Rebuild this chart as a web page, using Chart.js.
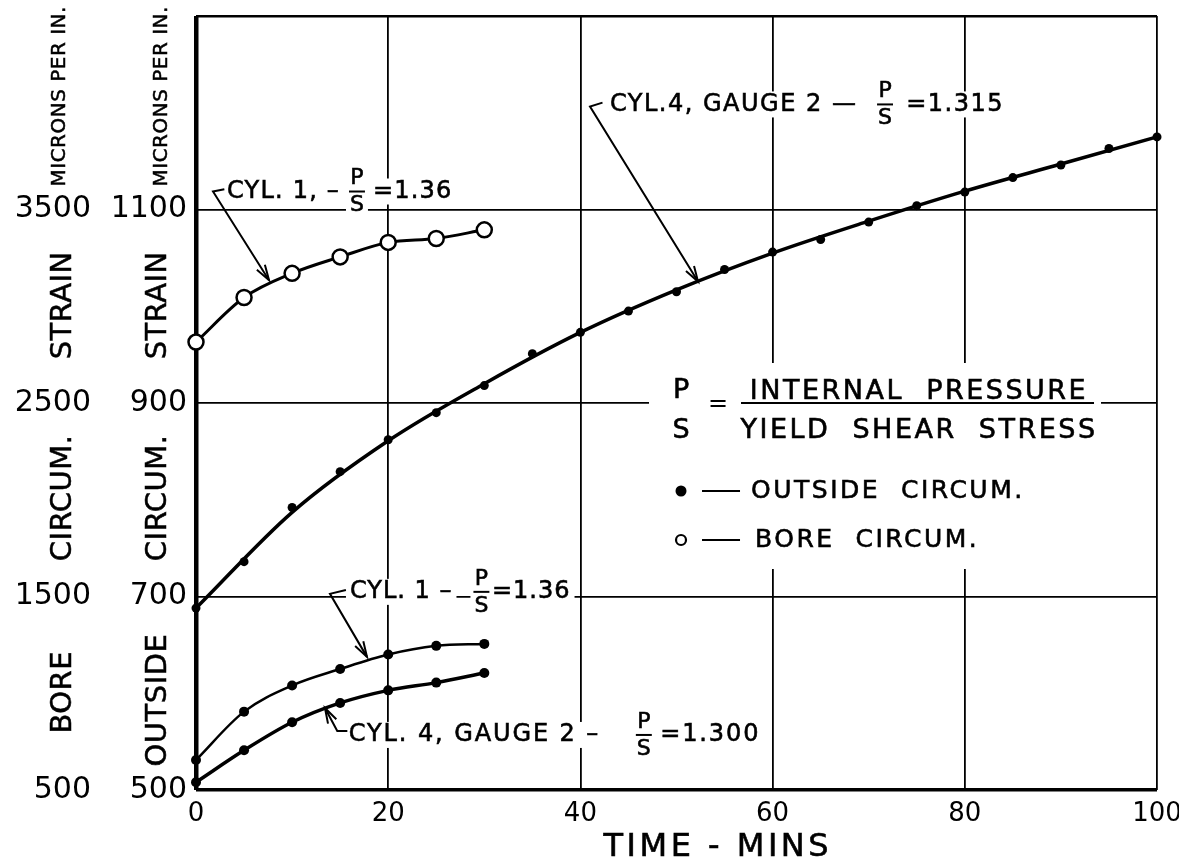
<!DOCTYPE html>
<html>
<head>
<meta charset="utf-8">
<title>Circumferential strain vs time</title>
<script src="https://cdn.jsdelivr.net/npm/chart.js@4.4.1/dist/chart.umd.min.js"></script>
<style>
  html, body { margin:0; padding:0; background:#fff; }
  canvas { display:block; }
</style>
</head>
<body>
<canvas id="chart" width="1179" height="867"></canvas>
<script>
// ---------- values ----------
const timeShortMin = [0, 5, 10, 15, 20, 25, 30];
const timeLongMin  = [0, 5, 10, 15, 20, 25, 30, 35, 40, 45, 50, 55, 60, 65, 70, 75, 80, 85, 90, 95, 100];
const timeCurveMin = [0, 10, 20, 30, 40, 50, 60, 70, 80, 90, 100];

// outside circumference, Cyl. 4, gauge 2, P/S = 1.315 (measured points)
const outsideCyl4Gauge2PS1315 = [688, 736, 792, 829, 862, 890, 918, 951, 973, 995, 1015, 1038, 1056, 1069, 1087, 1104, 1118, 1133, 1146, 1163, 1175];
// the faired curve drawn through them
const outsideCyl4Gauge2PS1315Curve = [688, 787, 861, 920, 973, 1017, 1055, 1088, 1119, 1147, 1175];
// outside circumference, Cyl. 1, P/S = 1.36
const outsideCyl1PS136 = [531, 581, 608, 625, 640, 649, 651];
// outside circumference, Cyl. 4, gauge 2, P/S = 1.300
const outsideCyl4Gauge2PS1300 = [508, 541, 570, 590, 603, 611, 621];
// bore circumference, Cyl. 1, P/S = 1.36
const boreCyl1PS136 = [2815, 3045, 3170, 3255, 3330, 3350, 3395];

const outsideTickValues = [500, 700, 900, 1100];
const boreTickValues = [500, 1500, 2500, 3500];
const timeTickValues = [0, 20, 40, 60, 80, 100];

// ---------- helpers ----------
const FONT = '"DejaVu Sans", "Liberation Sans", sans-serif';
const font = s => `${s}px ${FONT}`;
const pts = (xs, ys) => xs.map((x, i) => ({ x: x, y: ys[i] }));

// annotation texts (anchors in data units of x / outside-strain axis)
const annotationSpecs = [
  { prefix: 'CYL. 1, –', suffix: '=1.36', ls: 1.2, y: 1118.6, prefixX: 3.23, fracX: 16.75, suffixX: 18.42,
    leader: [[2.95, 1121], [1.77, 1118.6], [7.60, 1026.9]] },
  { prefix: 'CYL.4, GAUGE 2 —', suffix: '=1.315', ls: 1.5, y: 1208.6, prefixX: 43.08, fracX: 71.7, suffixX: 73.9,
    leader: [[42.3, 1210.5], [41.0, 1206.5], [52.24, 1025.5]] },
  { prefix: 'CYL. 1 –', suffix: '=1.36', ls: 1, y: 704.8, prefixX: 16.02, fracX: 29.7, suffixX: 30.8,
    leader: [[15.6, 706.8], [13.94, 702.8], [17.79, 637.6]] },
  { prefix: 'CYL. 4, GAUGE 2 –', suffix: '=1.300', ls: 1.9, y: 556.9, prefixX: 15.9, fracX: 46.6, suffixX: 48.3,
    leader: [[15.75, 561], [14.7, 561], [13.42, 584.8]] }
];

const axisWords = [
  { scale: 'yBore', text: 'MICRONS PER IN.', value: 1217, dx: 60, size: 20 },
  { scale: 'yBore', text: 'STRAIN',  value: 1001, dx: 63, size: 29 },
  { scale: 'yBore', text: 'CIRCUM.', value: 802,  dx: 63, size: 29 },
  { scale: 'yBore', text: 'BORE',    value: 601,  dx: 63, size: 29 },
  { scale: 'y', text: 'MICRONS PER IN.', value: 1217, dx: 57, size: 20 },
  { scale: 'y', text: 'STRAIN',  value: 1001, dx: 53, size: 29 },
  { scale: 'y', text: 'CIRCUM.', value: 802,  dx: 53, size: 29 },
  { scale: 'y', text: 'OUTSIDE', value: 593,  dx: 53, size: 29 }
];

const legendAnchor = { x: 50.47, y: 900 };

function annGeom(chart, a) {
  const ctx = chart.ctx, xs = chart.scales.x, ys = chart.scales.y;
  ctx.save();
  ctx.font = font(24); ctx.letterSpacing = a.ls + 'px';
  const pw = ctx.measureText(a.prefix).width;
  const sw = ctx.measureText(a.suffix).width;
  ctx.font = font(22); ctx.letterSpacing = '0px';
  const fw = Math.max(ctx.measureText('P').width, ctx.measureText('S').width);
  ctx.restore();
  return {
    y: ys.getPixelForValue(a.y),
    px: xs.getPixelForValue(a.prefixX), pw: pw,
    fx: xs.getPixelForValue(a.fracX), fw: fw,
    sx: xs.getPixelForValue(a.suffixX), sw: sw
  };
}

function drawLeader(ctx, p) {
  ctx.beginPath();
  ctx.moveTo(p[0][0], p[0][1]);
  for (let i = 1; i < p.length; i++) ctx.lineTo(p[i][0], p[i][1]);
  ctx.stroke();
  const a = p[p.length - 1], b = p[p.length - 2];
  const ang = Math.atan2(a[1] - b[1], a[0] - b[0]);
  const L = 16, sp = 0.3;
  ctx.beginPath();
  ctx.moveTo(a[0] - L * Math.cos(ang - sp), a[1] - L * Math.sin(ang - sp));
  ctx.lineTo(a[0], a[1]);
  ctx.lineTo(a[0] - L * Math.cos(ang + sp), a[1] - L * Math.sin(ang + sp));
  ctx.stroke();
}

function boldText(ctx, t, x, y) {
  ctx.fillText(t, x, y);
  ctx.strokeText(t, x, y);
}

const notesPlugin = {
  id: 'notes',
  beforeDatasetsDraw(chart) {
    const ctx = chart.ctx, xs = chart.scales.x, ys = chart.scales.y;
    ctx.save();
    ctx.fillStyle = '#fff';
    annotationSpecs.forEach(a => {
      const g = annGeom(chart, a);
      ctx.fillRect(g.px - 4, g.y - 13, g.pw + 8, 26);
      ctx.fillRect(g.fx - g.fw / 2 - 4, g.y - 26, g.fw + 8, 52);
      ctx.fillRect(g.sx - 4, g.y - 13, g.sw + 8, 26);
    });
    // legend block
    const lx = xs.getPixelForValue(legendAnchor.x), ly = ys.getPixelForValue(legendAnchor.y);
    ctx.fillRect(lx - 32, ly - 40, 452, 206);
    ctx.restore();
  },
  afterDraw(chart) {
    const ctx = chart.ctx, xs = chart.scales.x, ys = chart.scales.y;
    ctx.save();
    ctx.fillStyle = '#000';
    ctx.strokeStyle = '#000';
    ctx.textBaseline = 'middle';

    // annotations
    annotationSpecs.forEach(a => {
      const g = annGeom(chart, a);
      ctx.lineWidth = 0.6;
      ctx.font = font(24); ctx.letterSpacing = a.ls + 'px'; ctx.textAlign = 'left';
      boldText(ctx, a.prefix, g.px, g.y);
      boldText(ctx, a.suffix, g.sx, g.y);
      ctx.font = font(22); ctx.letterSpacing = '0px'; ctx.textAlign = 'center';
      boldText(ctx, 'P', g.fx, g.y - 13);
      boldText(ctx, 'S', g.fx, g.y + 14);
      ctx.lineWidth = 2;
      ctx.beginPath(); ctx.moveTo(g.fx - g.fw / 2 - 1, g.y); ctx.lineTo(g.fx + g.fw / 2 + 1, g.y); ctx.stroke();
      drawLeader(ctx, a.leader.map(p => [xs.getPixelForValue(p[0]), ys.getPixelForValue(p[1])]));
    });

    // P/S definition + symbol legend
    const lx = xs.getPixelForValue(legendAnchor.x), ly = ys.getPixelForValue(legendAnchor.y);
    ctx.letterSpacing = '0px';
    ctx.textAlign = 'center';
    ctx.lineWidth = 0.6;
    ctx.font = font(27);
    boldText(ctx, 'P', lx, ly - 12);
    boldText(ctx, 'S', lx, ly + 28);
    ctx.font = font(24);
    ctx.fillText('=', lx + 37, ly + 2);
    ctx.font = font(27); ctx.letterSpacing = '2.5px';
    boldText(ctx, 'INTERNAL  PRESSURE', lx + 238, ly - 11);
    boldText(ctx, 'YIELD  SHEAR  STRESS', lx + 238, ly + 28);
    ctx.lineWidth = 2;
    ctx.beginPath(); ctx.moveTo(lx + 60, ly); ctx.lineTo(lx + 413, ly); ctx.stroke();
    // symbols
    ctx.beginPath(); ctx.arc(lx, ly + 88, 5.5, 0, Math.PI * 2); ctx.fill();
    ctx.lineWidth = 2.2;
    ctx.beginPath(); ctx.arc(lx, ly + 137, 5, 0, Math.PI * 2); ctx.stroke();
    ctx.lineWidth = 2;
    ctx.beginPath(); ctx.moveTo(lx + 21, ly + 88); ctx.lineTo(lx + 59, ly + 88); ctx.stroke();
    ctx.beginPath(); ctx.moveTo(lx + 21, ly + 137); ctx.lineTo(lx + 59, ly + 137); ctx.stroke();
    ctx.textAlign = 'left';
    ctx.lineWidth = 0.6;
    ctx.font = font(25); ctx.letterSpacing = '2.5px';
    boldText(ctx, 'OUTSIDE  CIRCUM.', lx + 70, ly + 88);
    boldText(ctx, 'BORE  CIRCUM.', lx + 74, ly + 137);

    // rotated axis words
    ctx.letterSpacing = '0.5px';
    ctx.textAlign = 'center';
    axisWords.forEach(w => {
      const sc = chart.scales[w.scale];
      const x = sc.left + w.dx, y = ys.getPixelForValue(w.value);
      ctx.save();
      ctx.translate(x, y);
      ctx.rotate(-Math.PI / 2);
      ctx.font = font(w.size);
      ctx.lineWidth = 0.5;
      boldText(ctx, w.text, 0, 0);
      ctx.restore();
    });

    // x-axis title
    ctx.font = font(32); ctx.letterSpacing = '3.5px';
    ctx.textAlign = 'center';
    ctx.lineWidth = 0.6;
    boldText(ctx, 'TIME - MINS', xs.getPixelForValue(54.3), 848);
    ctx.restore();
  }
};

const gridWidthY = c => {
  const v = c.tick ? c.tick.value : null;
  if (v === 500) return 3.5;
  if (v === 1300) return 2.5;
  return 1.8;
};
const gridWidthX = c => {
  const v = c.tick ? c.tick.value : null;
  if (v === 0) return 4.5;
  return 1.8;
};

new Chart(document.getElementById('chart').getContext('2d'), {
  type: 'line',
  data: {
    datasets: [
      { label: 'Cyl. 1 bore, P/S = 1.36', data: pts(timeShortMin, boreCyl1PS136), yAxisID: 'yBore',
        borderColor: '#000', borderWidth: 3, cubicInterpolationMode: 'monotone',
        pointRadius: 7.5, pointBackgroundColor: '#fff', pointBorderColor: '#000', pointBorderWidth: 2.5,
        clip: false, order: 1 },
      { label: 'Cyl. 4 gauge 2 outside, P/S = 1.315 (points)', data: pts(timeLongMin, outsideCyl4Gauge2PS1315), yAxisID: 'y',
        showLine: false, pointRadius: 4.5, pointBackgroundColor: '#000', pointBorderColor: '#000', pointBorderWidth: 0,
        clip: false, order: 2 },
      { label: 'Cyl. 4 gauge 2 outside, P/S = 1.315 (curve)', data: pts(timeCurveMin, outsideCyl4Gauge2PS1315Curve), yAxisID: 'y',
        borderColor: '#000', borderWidth: 3.5, cubicInterpolationMode: 'monotone', pointRadius: 0,
        clip: false, order: 3 },
      { label: 'Cyl. 1 outside, P/S = 1.36', data: pts(timeShortMin, outsideCyl1PS136), yAxisID: 'y',
        borderColor: '#000', borderWidth: 2.5, cubicInterpolationMode: 'monotone',
        pointRadius: 5, pointBackgroundColor: '#000', pointBorderColor: '#000', pointBorderWidth: 0,
        clip: false, order: 4 },
      { label: 'Cyl. 4 gauge 2 outside, P/S = 1.300', data: pts(timeShortMin, outsideCyl4Gauge2PS1300), yAxisID: 'y',
        borderColor: '#000', borderWidth: 3.5, cubicInterpolationMode: 'monotone',
        pointRadius: 5, pointBackgroundColor: '#000', pointBorderColor: '#000', pointBorderWidth: 0,
        clip: false, order: 5 }
    ]
  },
  options: {
    responsive: false,
    devicePixelRatio: 1,
    animation: false,
    layout: { padding: { top: 16, right: 22, bottom: 0, left: 0 } },
    plugins: { legend: { display: false }, tooltip: { enabled: false } },
    scales: {
      x: {
        type: 'linear', min: 0, max: 100,
        afterBuildTicks: s => { s.ticks = timeTickValues.map(v => ({ value: v })); },
        afterFit: s => { s.height = 77; s.paddingLeft = 0; s.paddingRight = 0; },
        grid: { color: '#000', lineWidth: gridWidthX, drawTicks: false },
        border: { display: false },
        ticks: { color: '#000', font: { family: FONT, size: 26 }, padding: 9, maxRotation: 0, autoSkip: false,
                 callback: v => String(v) }
      },
      y: {
        type: 'linear', position: 'left', weight: 0, min: 500, max: 1300,
        afterBuildTicks: s => { s.ticks = outsideTickValues.concat([1300]).map(v => ({ value: v })); },
        afterFit: s => { s.width = 91; s.paddingTop = 0; s.paddingBottom = 0; },
        grid: { color: '#000', lineWidth: gridWidthY, drawTicks: false },
        border: { display: false },
        ticks: { color: '#000', font: { family: FONT, size: 30 }, padding: 9, autoSkip: false,
                 callback: v => outsideTickValues.includes(v) ? String(v) : '' }
      },
      yBore: {
        type: 'linear', position: 'left', weight: 1, min: 500, max: 4500,
        afterBuildTicks: s => { s.ticks = boreTickValues.concat([4500]).map(v => ({ value: v })); },
        afterFit: s => { s.width = 105; s.paddingTop = 0; s.paddingBottom = 0; },
        grid: { display: false, drawTicks: false },
        border: { display: false },
        ticks: { color: '#000', font: { family: FONT, size: 30 }, padding: 14, autoSkip: false,
                 callback: v => boreTickValues.includes(v) ? String(v) : '' }
      }
    }
  },
  plugins: [notesPlugin]
});
</script>
</body>
</html>
